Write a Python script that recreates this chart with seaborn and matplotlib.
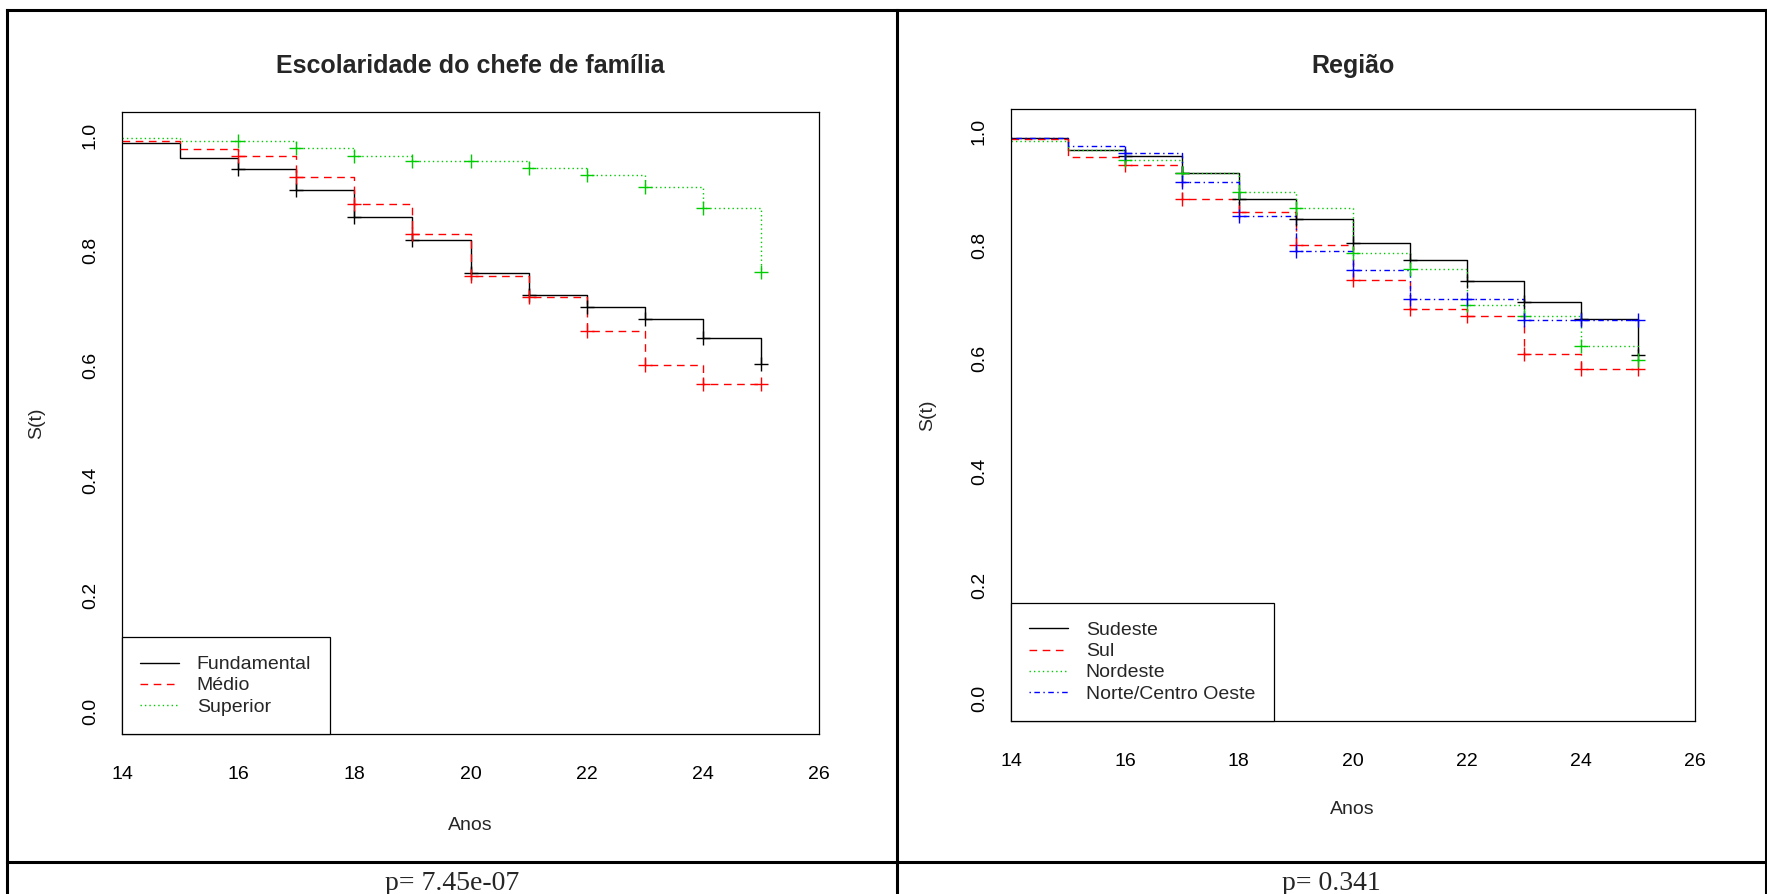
import numpy as np
import pandas as pd
import matplotlib
matplotlib.use("Agg")
import matplotlib.pyplot as plt
from matplotlib.lines import Line2D
import seaborn as sns

# ---------------- data ----------------
anos = [14, 15, 16, 17, 18, 19, 20, 21, 22, 23, 24, 25]

# Escolaridade do chefe de família
esc_grupos = ["Fundamental", "Médio", "Superior"]
s_fundamental = [0.986, 0.960, 0.941, 0.904, 0.858, 0.817, 0.761, 0.722, 0.702, 0.680, 0.648, 0.603]
s_medio       = [0.989, 0.975, 0.964, 0.927, 0.881, 0.829, 0.756, 0.718, 0.659, 0.601, 0.567, 0.567]
s_superior    = [0.995, 0.989, 0.989, 0.977, 0.964, 0.955, 0.955, 0.943, 0.930, 0.909, 0.874, 0.763]

# Região
reg_grupos = ["Sudeste", "Sul", "Nordeste", "Norte/Centro Oeste"]
s_sudeste  = [0.989, 0.968, 0.957, 0.927, 0.882, 0.846, 0.803, 0.773, 0.737, 0.700, 0.669, 0.606]
s_sul      = [0.987, 0.956, 0.941, 0.882, 0.859, 0.800, 0.739, 0.687, 0.674, 0.608, 0.582, 0.582]
s_nordeste = [0.984, 0.967, 0.950, 0.927, 0.893, 0.866, 0.785, 0.758, 0.694, 0.674, 0.622, 0.597]
s_norte_co = [0.988, 0.975, 0.962, 0.912, 0.851, 0.789, 0.755, 0.705, 0.705, 0.667, 0.667, 0.667]

censura_inicio = 16  # censor marks drawn from this year on

p_esc = "p= 7.45e-07"
p_reg = "p= 0.341"

x_ticks = [14, 16, 18, 20, 22, 24, 26]
y_ticks = [0.0, 0.2, 0.4, 0.6, 0.8, 1.0]

# ---------------- style ----------------
sns.set_theme(style="white")
plt.rcParams["font.family"] = ["Liberation Sans", "DejaVu Sans"]
plt.rcParams["axes.edgecolor"] = "black"
plt.rcParams["axes.linewidth"] = 0.9

cores = ["#000000", "#FF0000", "#00CD00", "#0000FF"]
tracos = ["", (5.5, 4.0), (1.0, 2.2), (1.0, 2.5, 4.0, 2.5)]
tracos_mpl = ["-", (0, (5.5, 4.0)), (0, (1.0, 2.2)), (0, (1.0, 2.5, 4.0, 2.5))]

W, H = 1767, 894
fig = plt.figure(figsize=(W / 100, H / 100), dpi=100)
fig.patch.set_facecolor("white")


def px_axes(l, t, r, b):
    return fig.add_axes([l / W, 1 - b / H, (r - l) / W, (b - t) / H])


def painel(ax, grupos, series, titulo, title_pad, ylab_x, xlab_y):
    n = len(grupos)
    df = pd.DataFrame({
        "Anos": np.tile(anos, n),
        "S": np.concatenate([np.asarray(s, float) for s in series]),
        "grupo": np.repeat(grupos, len(anos)),
    })
    pal = dict(zip(grupos, cores[:n]))
    dsh = dict(zip(grupos, tracos[:n]))
    sns.lineplot(data=df, x="Anos", y="S", hue="grupo", style="grupo",
                 palette=pal, dashes=dsh, drawstyle="steps-post",
                 estimator=None, linewidth=1.0, legend=False, ax=ax)
    cens = df[df["Anos"] >= censura_inicio]
    for g in grupos:
        sub = cens[cens["grupo"] == g]
        sns.scatterplot(data=sub, x="Anos", y="S", marker="+", s=95,
                        color=pal[g], linewidth=1.0, legend=False, ax=ax, zorder=3)
    ax.set_xlim(14, 26)
    ax.set_ylim(-0.04, 1.04)
    ax.set_xticks(x_ticks)
    ax.set_xticklabels([str(v) for v in x_ticks])
    ax.set_yticks(y_ticks)
    ax.set_yticklabels([f"{v:.1f}" for v in y_ticks])
    ax.tick_params(axis="both", direction="out", length=8.6, width=0.9,
                   labelsize=14, color="black", labelcolor="black")
    ax.tick_params(axis="x", pad=14.5)
    ax.tick_params(axis="y", pad=8, labelrotation=90)
    for lab in ax.get_yticklabels():
        lab.set_verticalalignment("center")
    for sp in ax.spines.values():
        sp.set_visible(True)
        sp.set_color("black")
        sp.set_linewidth(0.9)
    ax.set_title(titulo, fontsize=18, fontweight="bold", pad=title_pad)
    ax.set_xlabel("Anos", fontsize=14)
    ax.set_ylabel("S(t)", fontsize=14)
    ax.xaxis.set_label_coords(0.5, xlab_y)
    ax.yaxis.set_label_coords(ylab_x, 0.5)
    handles = [Line2D([0], [0], color=cores[i], lw=1.0, linestyle=tracos_mpl[i])
               for i in range(n)]
    leg = ax.legend(handles, grupos, loc="lower left", bbox_to_anchor=(0, 0),
                    borderaxespad=0, fontsize=14, frameon=True, fancybox=False,
                    handlelength=2.0, handletextpad=0.9, borderpad=0.95,
                    labelspacing=0.18)
    fr = leg.get_frame()
    fr.set_edgecolor("black")
    fr.set_linewidth(0.9)
    fr.set_facecolor("white")
    fr.set_alpha(1)


ax1 = px_axes(122, 112, 819, 734)
painel(ax1, esc_grupos, [s_fundamental, s_medio, s_superior],
       "Escolaridade do chefe de família", 28, -0.110, -0.134)

ax2 = px_axes(1011, 109, 1694.5, 721)
painel(ax2, reg_grupos, [s_sudeste, s_sul, s_nordeste, s_norte_co],
       "Região", 26, -0.110, -0.1315)

# table borders
def fline(x0, y0, x1, y1):
    fig.add_artist(Line2D([x0 / W, x1 / W], [1 - y0 / H, 1 - y1 / H],
                          color="black", lw=2.2, transform=fig.transFigure,
                          solid_capstyle="projecting"))

fline(7, 10, 7, 894)
fline(7, 10, 1766, 10)
fline(897, 10, 897, 894)
fline(1766, 10, 1766, 894)
fline(7, 862, 1766, 862)

fig.text(452 / W, 1 - 890 / H, p_esc, ha="center", va="baseline",
         fontsize=20, family=["Liberation Serif", "DejaVu Serif"])
fig.text(1331 / W, 1 - 890 / H, p_reg, ha="center", va="baseline",
         fontsize=20, family=["Liberation Serif", "DejaVu Serif"])

fig.savefig("out.png", dpi=100, facecolor="white")
